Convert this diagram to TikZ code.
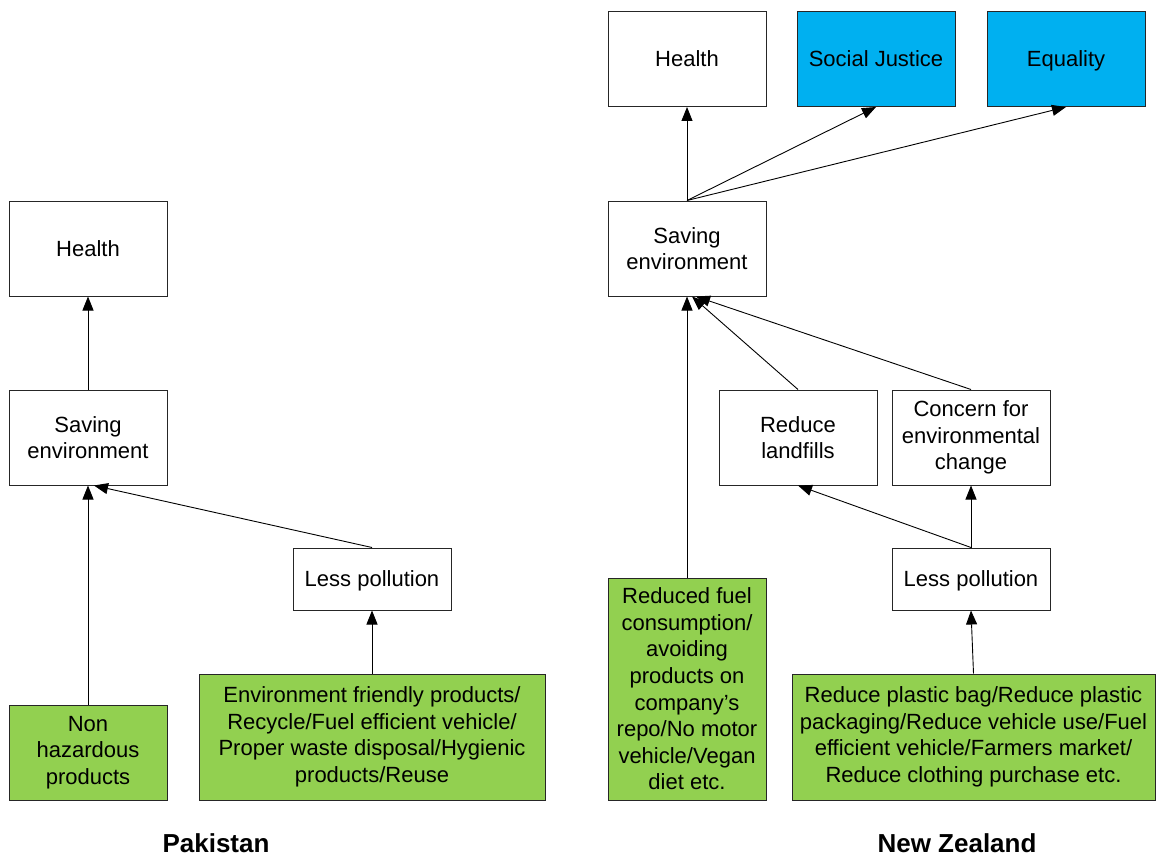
\documentclass[tikz,border=0pt]{standalone}
\usepackage{fontspec}
\setmainfont{Liberation Sans}
\usetikzlibrary{arrows.meta}
\definecolor{leaf}{HTML}{92D050}
\definecolor{sky}{HTML}{00B0F0}
\begin{document}
\begin{tikzpicture}[x=1pt,y=-1pt,
  box/.style={draw=black!85, line width=1pt, fill=white, inner sep=0pt,
    align=center, font=\fontsize{22}{26.6}\selectfont,
    minimum width=158pt, minimum height=95pt},
  oneline/.style={text depth=0pt},
  flatbox/.style={box, oneline, minimum height=62pt},
  actbox/.style={box, fill=leaf},
  valbox/.style={box, oneline, fill=sky},
  country/.style={font=\bfseries\fontsize{26}{30}\selectfont, inner sep=0pt},
  link/.style={-{Triangle[length=14pt,width=11pt]}, line width=0.9pt, black}]

\useasboundingbox (0,0) rectangle (1156,856);

% ---- Pakistan ----
\node[box, oneline] (lhealth) at (88,248.5) {Health};
\node[box] (lsave) at (88,437.5) {Saving\\environment};
\node[flatbox] (lless) at (372,579) {Less pollution};
\node[actbox] (lnonhaz) at (88,752.5) {Non\\hazardous\\products};
\node[actbox, minimum width=346pt, minimum height=126pt] (lenv) at (372,737)
  {Environment friendly products/\\Recycle/Fuel efficient vehicle/\\Proper waste disposal/Hygienic\\products/Reuse};
\node[country] (lpk) at (216,843) {Pakistan};

\draw[link] (lsave.north) -- (lhealth.south);
\draw[link] (lnonhaz.north) -- (lsave.south);
\draw[link] (lless.north) -- ([xshift=6pt]lsave.south);
\draw[link] (lenv.north) -- (lless.south);

% ---- New Zealand ----
\node[box, oneline] (rhealth) at (687,59) {Health};
\node[valbox] (rjust) at (876,59) {Social Justice};
\node[valbox] (requal) at (1066,59) {Equality};
\node[box] (rsave) at (687,248.5) {Saving\\environment};
\node[box] (rland) at (798,437.5) {Reduce\\landfills};
\node[box] (rconc) at (971,437.5) {Concern for\\environmental\\change};
\node[flatbox] (rless) at (971,579) {Less pollution};
\node[actbox, minimum height=222pt] (rfuel) at (687,689)
  {Reduced fuel\\consumption/\\avoiding\\products on\\company’s\\repo/No motor\\vehicle/Vegan\\diet etc.};
\node[actbox, minimum width=363pt, minimum height=126pt] (rplast) at (973.5,737)
  {Reduce plastic bag/Reduce plastic\\packaging/Reduce vehicle use/Fuel\\efficient vehicle/Farmers market/\\Reduce clothing purchase etc.};
\node[country] (rnz) at (957,843) {New Zealand};

\draw[link] (rsave.north) -- (rhealth.south);
\draw[link] (rsave.north) -- (rjust.south);
\draw[link] (rsave.north) -- (requal.south);
\draw[link] (rfuel.north) -- (rsave.south);
\draw[link] (rland.north) -- ([xshift=5pt]rsave.south);
\draw[link] (rconc.north) -- ([xshift=9pt]rsave.south);
\draw[link] (rless.north) -- (rland.south);
\draw[link] (rless.north) -- (rconc.south);
\draw[link] (rplast.north) -- (rless.south);
\end{tikzpicture}
\end{document}
